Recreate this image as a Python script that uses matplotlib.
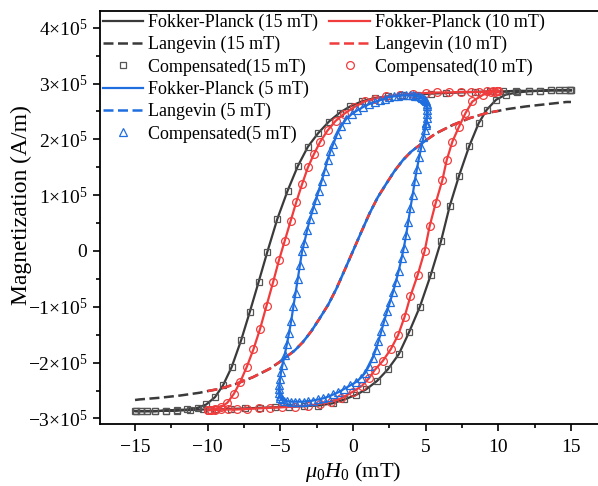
import matplotlib
matplotlib.use("Agg")
import numpy as np
import matplotlib.pyplot as plt
from matplotlib.ticker import MultipleLocator, FuncFormatter
from matplotlib.lines import Line2D

plt.rcParams['font.family'] = ['Liberation Serif', 'DejaVu Serif']
plt.rcParams['mathtext.fontset'] = 'custom'
plt.rcParams['mathtext.rm'] = 'Liberation Serif'
plt.rcParams['mathtext.it'] = 'Liberation Serif:italic'
plt.rcParams['axes.unicode_minus'] = True

SCALE = 1e5  # magnetization values below are in units of 1e5 A/m

# ---------------- 15 mT loop (descending then ascending branch) ----------------
h15 = [15.0, 14.9, 14.6, 14.2, 13.6, 12.9, 12.1, 11.2, 10.3, 9.4, 8.4, 7.4, 6.4, 5.4, 4.4, 3.4,
       2.4, 1.5, 0.6, -0.2, -0.9, -1.65, -2.4, -3.1, -3.8, -4.5, -5.2, -5.9, -6.5, -7.1, -7.7,
       -8.35, -8.95, -9.5, -10.1, -10.7, -11.4, -12.1, -12.9, -13.6, -14.2, -14.6, -14.9, -15.0,
       -14.9, -14.6, -14.2, -13.6, -12.9, -12.1, -11.2, -10.3, -9.4, -8.4, -7.4, -6.4, -5.4,
       -4.4, -3.4, -2.4, -1.4, -0.6, 0.2, 0.9, 1.65, 2.4, 3.15, 3.85, 4.6, 5.35, 6.05, 6.65, 7.3,
       8.0, 8.65, 9.2, 9.85, 10.5, 11.3, 12.1, 12.9, 13.6, 14.2, 14.6, 14.9, 15.0]
m15 = [2.88, 2.88, 2.88, 2.88, 2.88, 2.87, 2.87, 2.87, 2.86, 2.86, 2.85, 2.84, 2.83, 2.82, 2.80, 2.79,
       2.77, 2.74, 2.68, 2.59, 2.48, 2.32, 2.11, 1.87, 1.52, 1.08, 0.58, -0.02, -0.56, -1.09, -1.60,
       -2.08, -2.41, -2.62, -2.75, -2.81, -2.84, -2.85, -2.86, -2.87, -2.87, -2.87, -2.87, -2.87,
       -2.87, -2.87, -2.87, -2.87, -2.86, -2.86, -2.85, -2.84, -2.84, -2.83, -2.82, -2.81, -2.80,
       -2.79, -2.78, -2.77, -2.73, -2.66, -2.58, -2.48, -2.33, -2.12, -1.85, -1.46, -1.00, -0.43,
       0.17, 0.80, 1.35, 1.88, 2.29, 2.53, 2.71, 2.80, 2.84, 2.86, 2.87, 2.88, 2.88, 2.88, 2.88, 2.88]

# ---------------- 10 mT loop ----------------
h10 = [10.0, 9.9, 9.6, 9.2, 8.7, 8.1, 7.4, 6.6, 5.8, 5.0, 4.1, 3.2, 2.3, 1.5, 0.8, 0.1, -0.6,
       -1.2, -1.75, -2.25, -2.7, -3.1, -3.5, -3.9, -4.3, -4.7, -5.1, -5.5, -5.95, -6.4, -6.85,
       -7.3, -7.75, -8.2, -8.65, -9.1, -9.5, -9.8, -9.95, -10.0,
       -9.95, -9.8, -9.5, -9.1, -8.6, -8.0, -7.3, -6.5, -5.7, -4.9, -4.0, -3.1, -2.3, -1.5,
       -0.8, 0.0, 0.6, 1.1, 1.5, 2.05, 2.6, 3.1, 3.55, 3.95, 4.45, 4.93, 5.27, 5.69, 6.15, 6.45,
       6.84, 7.3, 7.74, 8.22, 8.95, 9.5, 9.8, 9.95, 10.0]
m10 = [2.86, 2.86, 2.86, 2.86, 2.85, 2.85, 2.85, 2.84, 2.84, 2.83, 2.82, 2.80, 2.77, 2.73, 2.68, 2.58,
       2.46, 2.33, 2.16, 1.96, 1.73, 1.50, 1.20, 0.88, 0.53, 0.18, -0.17, -0.56, -0.98, -1.40,
       -1.76, -2.07, -2.34, -2.56, -2.72, -2.80, -2.83, -2.85, -2.85, -2.85,
       -2.85, -2.85, -2.85, -2.84, -2.84, -2.84, -2.83, -2.82, -2.81, -2.80, -2.79, -2.77, -2.74,
       -2.70, -2.64, -2.52, -2.42, -2.28, -2.13, -1.97, -1.76, -1.51, -1.18, -0.81, -0.43, 0.00,
       0.44, 0.86, 1.27, 1.63, 1.96, 2.23, 2.47, 2.68, 2.80, 2.84, 2.85, 2.86, 2.86]

# ---------------- 5 mT loop ----------------
h5 = [5.05, 5.08, 5.10, 5.10, 5.10, 5.07, 5.03, 4.97, 4.88, 4.78, 4.65, 4.50, 4.30, 4.10, 3.90,
      3.65, 3.40, 3.10, 2.80, 2.50, 2.20, 1.85, 1.50, 1.10, 0.70, 0.30, -0.10, -0.45, -0.80,
      -1.10, -1.35, -1.55, -1.75, -1.95, -2.15, -2.35, -2.55, -2.75, -2.95, -3.15, -3.35, -3.50,
      -3.65, -3.80, -3.95, -4.10, -4.25, -4.40, -4.55, -4.70, -4.85, -4.95, -5.02, -5.06, -5.08,
      -5.08, -5.05, -5.00, -4.90, -4.75, -4.55, -4.30, -4.00, -3.70, -3.40, -3.10, -2.75, -2.40,
      -2.05, -1.70, -1.35, -1.00, -0.60, -0.20, 0.20, 0.55, 0.85, 1.10, 1.35, 1.55, 1.75, 1.95,
      2.15, 2.35, 2.55, 2.75, 2.95, 3.15, 3.35, 3.50, 3.65, 3.80, 3.95, 4.10, 4.25, 4.40, 4.55,
      4.70, 4.85, 4.95, 5.02, 5.05]
m5 = [2.30, 2.38, 2.45, 2.52, 2.59, 2.64, 2.68, 2.71, 2.73, 2.75, 2.76, 2.77, 2.78, 2.79, 2.79,
      2.79, 2.79, 2.78, 2.77, 2.76, 2.73, 2.70, 2.67, 2.63, 2.58, 2.52, 2.45, 2.37, 2.24,
      2.09, 1.92, 1.79, 1.63, 1.44, 1.26, 1.08, 0.92, 0.75, 0.58, 0.38, 0.15, 0.00,
      -0.25, -0.50, -0.75, -0.99, -1.25, -1.47, -1.67, -1.86, -2.04, -2.17, -2.30, -2.40, -2.48,
      -2.55, -2.60, -2.64, -2.66, -2.68, -2.69, -2.70, -2.70, -2.70, -2.70, -2.69, -2.68, -2.66,
      -2.64, -2.61, -2.57, -2.53, -2.47, -2.41, -2.35, -2.27, -2.18, -2.06, -1.92, -1.78, -1.62,
      -1.44, -1.25, -1.08, -0.91, -0.74, -0.55, -0.35, -0.12, 0.06, 0.28, 0.52, 0.77, 1.00, 1.25,
      1.47, 1.68, 1.86, 2.04, 2.17, 2.26, 2.30]

# ---------------- Langevin (anhysteretic) curve ----------------
hL = [-15.0, -14.7, -13.3, -11.9, -10.55, -10.0, -9.17, -8.03, -6.88, -5.73, -5.0, -4.6, -4.0,
      -3.44, -2.85, -2.3, -1.7, -1.15, -0.57, 0.0, 0.57, 1.15, 1.7, 2.3, 2.85, 3.44, 4.0, 4.6,
      5.0, 5.73, 6.88, 8.03, 9.17, 10.0, 10.55, 11.9, 13.3, 14.7, 15.0]
mL = [-2.67, -2.66, -2.63, -2.59, -2.54, -2.51, -2.47, -2.38, -2.26, -2.11, -1.98, -1.90, -1.78,
      -1.63, -1.43, -1.21, -0.96, -0.68, -0.34, 0.0, 0.34, 0.68, 0.96, 1.21, 1.43, 1.63, 1.78, 1.90,
      1.98, 2.11, 2.26, 2.38, 2.47, 2.51, 2.54, 2.59, 2.63, 2.67, 2.67]

amplitudes = [15, 10, 5]
labels_fp = ['Fokker-Planck (15 mT)', 'Fokker-Planck (10 mT)', 'Fokker-Planck (5 mT)']
labels_lv = ['Langevin (15 mT)', 'Langevin (10 mT)', 'Langevin (5 mT)']
labels_cp = ['Compensated(15 mT)', 'Compensated(10 mT)', 'Compensated(5 mT)']
xticks = [-15, -10, -5, 0, 5, 10, 15]
yticks = [-3, -2, -1, 0, 1, 2, 3, 4]

colors = {15: '#3a3a3a', 10: '#f03c3c', 5: '#1f6ee0'}
mec = {15: '#555555', 10: '#f03c3c', 5: '#1f6ee0'}
markers = {15: 's', 10: 'o', 5: '^'}
msize = {15: 4.6, 10: 5.6, 5: 5.2}
loops = {15: (h15, m15), 10: (h10, m10), 5: (h5, m5)}

fig = plt.figure(figsize=(5.98, 4.86), dpi=100)
ax = fig.add_axes([100/598, 62/486, 506/598, 413/486])

hL_a = np.array(hL)
mL_a = np.array(mL) * SCALE
handles = {}
for i, amp in enumerate(amplitudes):
    h, m = loops[amp]
    m = np.array(m) * SCALE
    z = 2 + i
    lfp, = ax.plot(h, m, '-', color=colors[amp], lw=1.6, zorder=z)
    lcp, = ax.plot(h, m, ls='none', marker=markers[amp], ms=msize[amp], mfc='none',
                   mec=mec[amp], mew=0.9, zorder=z)
    sel = np.abs(hL_a) <= amp + 1e-9
    llv, = ax.plot(hL_a[sel], mL_a[sel], ls=(0, (4, 1.8)), color=colors[amp], lw=1.8, zorder=z)
    handles[amp] = (lfp, llv, lcp)

ax.set_xlim(-17.41, 17.41)
ax.set_ylim(-3.1e5, 4.3e5)
ax.xaxis.set_major_locator(plt.FixedLocator(xticks))
ax.xaxis.set_minor_locator(MultipleLocator(2.5))
ax.yaxis.set_major_locator(plt.FixedLocator([v * SCALE for v in yticks]))
ax.yaxis.set_minor_locator(MultipleLocator(0.5e5))


def yfmt(v, pos):
    k = int(round(v / SCALE))
    if k == 0:
        return '0'
    s = '\u2212' if k < 0 else ''
    return s + '%d\u00d7$10^{5}$' % abs(k)


def xfmt(v, pos):
    k = int(round(v))
    return ('\u2212%d' % abs(k)) if k < 0 else '%d' % k


ax.yaxis.set_major_formatter(FuncFormatter(yfmt))
ax.xaxis.set_major_formatter(FuncFormatter(xfmt))
ax.tick_params(which='major', direction='out', length=5, width=1.2, labelsize=14, pad=4)
ax.tick_params(axis='x', which='major', labelsize=14, pad=6)
ax.tick_params(which='minor', direction='out', length=3, width=1.2)
for sp in ax.spines.values():
    sp.set_linewidth(1.3)

ax.set_xlabel(r'$\mu_0H_0$ (mT)', fontsize=16, labelpad=3)
ax.set_ylabel('Magnetization (A/m)', fontsize=17)
ax.yaxis.set_label_coords(-0.134, 0.53)

blank = Line2D([], [], ls='none')
hl = list(handles[15]) + list(handles[5]) + list(handles[10]) + [blank] * 3
ll = [labels_fp[0], labels_lv[0], labels_cp[0], labels_fp[2], labels_lv[2], labels_cp[2],
      labels_fp[1], labels_lv[1], labels_cp[1], '', '', '']
ax.legend(hl, ll, ncol=2, loc='upper left', bbox_to_anchor=(0.0, 1.0), frameon=False,
          fontsize=13, handlelength=2.25, handletextpad=0.28, columnspacing=0.6,
          labelspacing=0.28, borderaxespad=0.05, borderpad=0.1)

fig.savefig('out.png', dpi=100)
